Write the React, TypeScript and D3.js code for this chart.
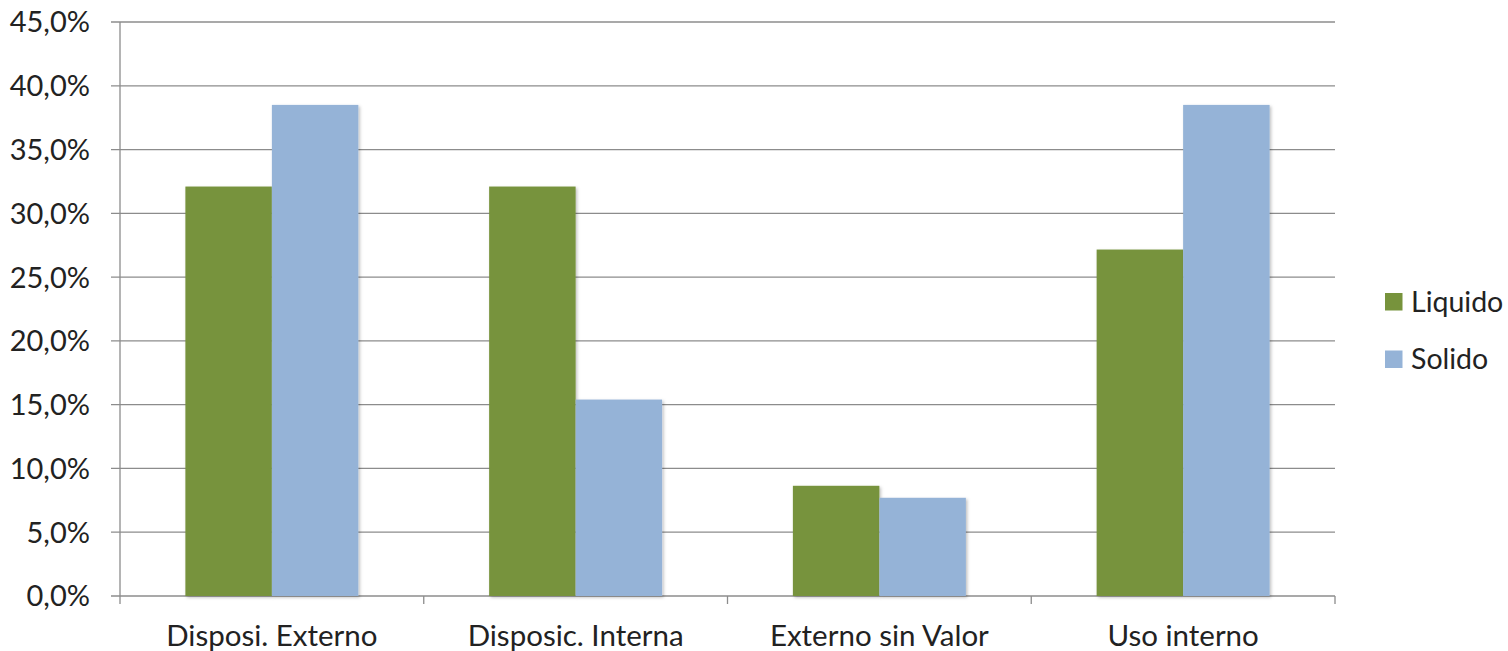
import React from "react";
import * as d3 from "d3";

const categories = ["Disposi. Externo", "Disposic. Interna", "Externo sin Valor", "Uso interno"];
const seriesNames = ["Liquido", "Solido"];
const liquido = [32.1, 32.1, 8.64, 27.16];
const solido = [38.5, 15.4, 7.7, 38.5];
const yTicks = [0, 5, 10, 15, 20, 25, 30, 35, 40, 45];
const colors = ["#77933C", "#95B3D7"];

const W = 1508;
const H = 651;
const left = 120;
const right = 1335;
const top = 22;
const bottom = 596;
const FONT = "Lato, 'Open Sans', sans-serif";

export default function App() {
  const x = d3.scaleBand<string>().domain(categories).range([left, right]).paddingInner(0).paddingOuter(0);
  const inner = d3.scaleBand<string>().domain(seriesNames).range([0, x.bandwidth()]).paddingOuter(0.756).paddingInner(0);
  const y = d3.scaleLinear().domain([0, 45]).range([bottom, top]);
  const series = [liquido, solido];
  const fmt = (v: number) => v.toFixed(1).replace(".", ",") + "%";
  const boundaries = [...categories.map((c) => x(c) as number), right];

  return (
    <svg width={W} height={H} style={{ position: "absolute", left: 0, top: 0, background: "#fff" }}>
      <defs>
        <filter id="sh" x="-10%" y="-10%" width="130%" height="130%">
          <feDropShadow dx="1.5" dy="1.5" stdDeviation="1.5" floodColor="#000" floodOpacity="0.25" />
        </filter>
      </defs>
      {yTicks.map((t) => (
        <g key={t}>
          <line x1={left - 9} x2={right} y1={y(t)} y2={y(t)} stroke="#8c8c8c" strokeWidth={1.3} />
          <text x={90} y={y(t)} dy="0.36em" textAnchor="end" fontFamily={FONT} fontSize={29} fill="#222">
            {fmt(t)}
          </text>
        </g>
      ))}
      <line x1={left} x2={left} y1={top} y2={bottom + 8} stroke="#8c8c8c" strokeWidth={1.3} />
      {boundaries.slice(1).map((b, i) => (
        <line key={i} x1={b} x2={b} y1={bottom} y2={bottom + 8} stroke="#8c8c8c" strokeWidth={1.3} />
      ))}
      {series.map((vals, si) =>
        vals.map((v, ci) => (
          <rect
            key={si + "-" + ci}
            x={(x(categories[ci]) as number) + (inner(seriesNames[si]) as number)}
            y={y(v)}
            width={inner.bandwidth()}
            height={y(0) - y(v)}
            fill={colors[si]}
            filter="url(#sh)"
          />
        ))
      )}
      {categories.map((c) => (
        <text key={c} x={(x(c) as number) + x.bandwidth() / 2} y={635} dy="0.36em" textAnchor="middle" fontFamily={FONT} fontSize={29.5} fill="#222">
          {c}
        </text>
      ))}
      {seriesNames.map((s, i) => (
        <g key={s}>
          <rect x={1385} y={293 + i * 57.5} width={17.5} height={17.5} fill={colors[i]} />
          <text x={1411} y={301.5 + i * 57.5} dy="0.36em" fontFamily={FONT} fontSize={28.5} fill="#222">
            {s}
          </text>
        </g>
      ))}
    </svg>
  );
}
